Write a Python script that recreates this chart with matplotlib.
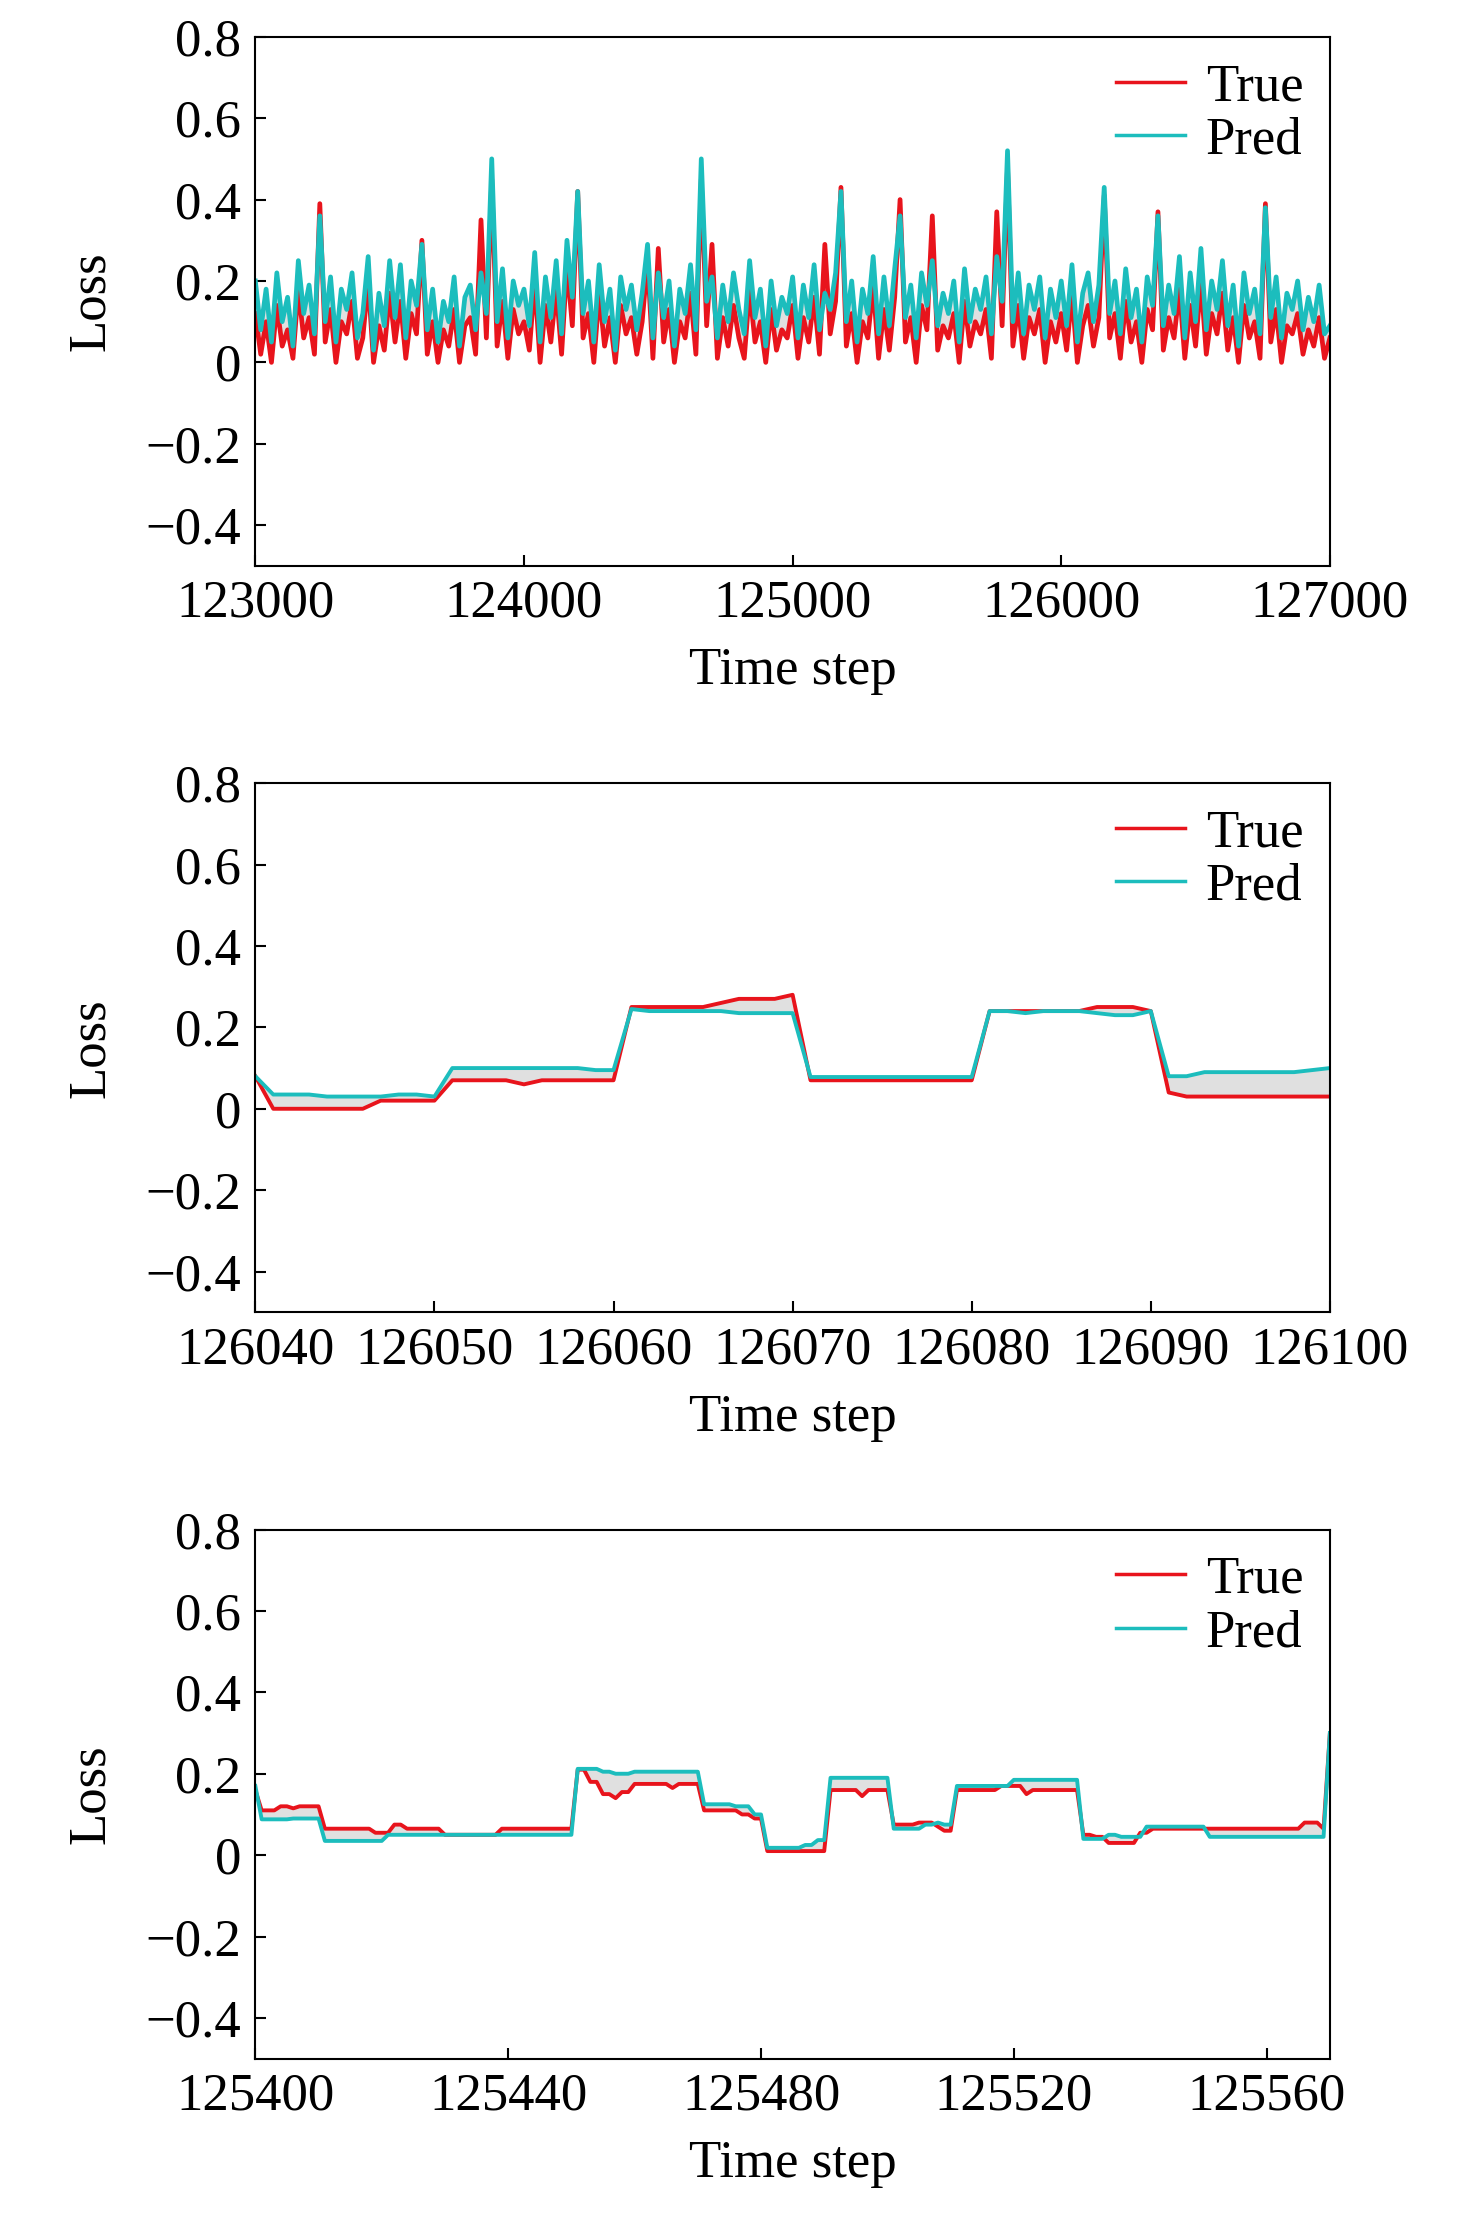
import numpy as np
import matplotlib
matplotlib.use("Agg")
import matplotlib.pyplot as plt

plt.rcParams['font.family'] = ['Liberation Serif', 'DejaVu Serif']
plt.rcParams['axes.unicode_minus'] = True

RED = '#e8141c'
TEAL = '#1cbdbd'

# ---- panel 1: 123000..127000, every 20 steps
t1 = np.arange(123000, 127001, 20)
pred1 = [
    0.20, 0.08, 0.18, 0.05, 0.22, 0.10, 0.16, 0.04, 0.25, 0.12, 0.19, 0.07, 0.36, 0.10, 0.21, 0.05, 0.18, 0.13, 0.22, 0.06,
    0.12, 0.26, 0.03, 0.17, 0.09, 0.25, 0.11, 0.24, 0.06, 0.20, 0.14, 0.29, 0.08, 0.18, 0.05, 0.15, 0.10, 0.21, 0.04, 0.16,
    0.19, 0.08, 0.22, 0.12, 0.50, 0.10, 0.23, 0.06, 0.20, 0.14, 0.18, 0.09, 0.27, 0.05, 0.21, 0.11, 0.25, 0.07, 0.30, 0.16,
    0.42, 0.12, 0.20, 0.05, 0.24, 0.10, 0.18, 0.03, 0.21, 0.13, 0.19, 0.08, 0.17, 0.29, 0.06, 0.22, 0.11, 0.20, 0.04, 0.18,
    0.12, 0.24, 0.08, 0.50, 0.15, 0.21, 0.06, 0.19, 0.10, 0.22, 0.13, 0.07, 0.25, 0.11, 0.18, 0.04, 0.20, 0.09, 0.16, 0.12,
    0.21, 0.06, 0.19, 0.11, 0.24, 0.08, 0.17, 0.13, 0.22, 0.42, 0.10, 0.20, 0.05, 0.18, 0.12, 0.26, 0.07, 0.21, 0.09, 0.23,
    0.36, 0.11, 0.19, 0.06, 0.22, 0.14, 0.25, 0.09, 0.17, 0.12, 0.20, 0.05, 0.23, 0.10, 0.18, 0.13, 0.21, 0.07, 0.26, 0.15,
    0.52, 0.10, 0.22, 0.07, 0.19, 0.13, 0.21, 0.06, 0.18, 0.11, 0.20, 0.09, 0.24, 0.05, 0.17, 0.22, 0.10, 0.19, 0.43, 0.12,
    0.20, 0.07, 0.23, 0.11, 0.18, 0.05, 0.21, 0.14, 0.36, 0.09, 0.19, 0.12, 0.26, 0.06, 0.22, 0.10, 0.28, 0.08, 0.20, 0.13,
    0.25, 0.09, 0.19, 0.04, 0.22, 0.12, 0.18, 0.07, 0.38, 0.11, 0.21, 0.06, 0.17, 0.13, 0.20, 0.08, 0.16, 0.10, 0.19, 0.07, 0.09,
]
true1 = [
    0.12, 0.02, 0.10, 0.00, 0.14, 0.04, 0.08, 0.01, 0.18, 0.06, 0.11, 0.02, 0.39, 0.05, 0.13, 0.00, 0.10, 0.07, 0.15, 0.01,
    0.06, 0.20, 0.00, 0.09, 0.03, 0.17, 0.05, 0.15, 0.01, 0.12, 0.07, 0.30, 0.02, 0.10, 0.00, 0.08, 0.04, 0.13, 0.00, 0.09,
    0.11, 0.02, 0.35, 0.06, 0.45, 0.04, 0.15, 0.01, 0.13, 0.07, 0.10, 0.03, 0.20, 0.00, 0.14, 0.05, 0.18, 0.02, 0.24, 0.09,
    0.42, 0.06, 0.12, 0.00, 0.17, 0.04, 0.11, 0.00, 0.14, 0.07, 0.11, 0.02, 0.10, 0.25, 0.01, 0.28, 0.05, 0.13, 0.00, 0.10,
    0.06, 0.17, 0.02, 0.45, 0.09, 0.29, 0.01, 0.11, 0.04, 0.14, 0.06, 0.01, 0.18, 0.05, 0.10, 0.00, 0.13, 0.03, 0.08, 0.06,
    0.14, 0.01, 0.11, 0.05, 0.16, 0.02, 0.29, 0.07, 0.15, 0.43, 0.04, 0.12, 0.00, 0.10, 0.06, 0.19, 0.01, 0.13, 0.03, 0.16,
    0.40, 0.05, 0.11, 0.00, 0.14, 0.08, 0.36, 0.03, 0.09, 0.06, 0.12, 0.00, 0.15, 0.04, 0.10, 0.07, 0.13, 0.01, 0.37, 0.09,
    0.48, 0.04, 0.14, 0.01, 0.11, 0.07, 0.13, 0.00, 0.10, 0.05, 0.12, 0.03, 0.17, 0.00, 0.09, 0.14, 0.04, 0.11, 0.41, 0.06,
    0.12, 0.01, 0.15, 0.05, 0.10, 0.00, 0.13, 0.08, 0.37, 0.03, 0.11, 0.06, 0.18, 0.01, 0.14, 0.04, 0.20, 0.02, 0.12, 0.07,
    0.17, 0.03, 0.11, 0.00, 0.14, 0.06, 0.10, 0.01, 0.39, 0.05, 0.13, 0.00, 0.09, 0.07, 0.12, 0.02, 0.08, 0.04, 0.11, 0.01, 0.06,
]

# ---- panel 2: 126040..126100, every step
t2 = np.arange(126040, 126101)
true2 = [0.08, 0.00, 0.00, 0.00, 0.00, 0.00, 0.00, 0.02, 0.02, 0.02, 0.02,
         0.07, 0.07, 0.07, 0.07, 0.06, 0.07, 0.07, 0.07, 0.07, 0.07,
         0.25, 0.25, 0.25, 0.25, 0.25, 0.26, 0.27, 0.27, 0.27, 0.28,
         0.07, 0.07, 0.07, 0.07, 0.07, 0.07, 0.07, 0.07, 0.07, 0.07,
         0.24, 0.24, 0.24, 0.24, 0.24, 0.24, 0.25, 0.25, 0.25, 0.24,
         0.04, 0.03, 0.03, 0.03, 0.03, 0.03, 0.03, 0.03, 0.03, 0.03]
pred2 = [0.08, 0.035, 0.035, 0.035, 0.03, 0.03, 0.03, 0.03, 0.035, 0.035, 0.03,
         0.10, 0.10, 0.10, 0.10, 0.10, 0.10, 0.10, 0.10, 0.095, 0.095,
         0.245, 0.24, 0.24, 0.24, 0.24, 0.24, 0.235, 0.235, 0.235, 0.235,
         0.078, 0.078, 0.078, 0.078, 0.078, 0.078, 0.078, 0.078, 0.078, 0.078,
         0.24, 0.24, 0.235, 0.24, 0.24, 0.24, 0.235, 0.23, 0.23, 0.24,
         0.08, 0.08, 0.09, 0.09, 0.09, 0.09, 0.09, 0.09, 0.095, 0.10]

# ---- panel 3: 125400..125570, piecewise-constant runs (offset of run start, value)
t3 = np.arange(125400, 125571)
true3_start = [0, 1, 4, 6, 7, 11, 19, 22, 24, 30, 39, 51, 53, 55, 57, 58, 60, 66, 67, 71, 77, 79, 81,
               91, 96, 97, 101, 105, 108, 109, 111, 118, 122, 123, 131, 133, 135, 140, 142, 166, 169, 170]
true3_val = [0.16, 0.11, 0.12, 0.115, 0.12, 0.065, 0.055, 0.075, 0.065, 0.05, 0.065, 0.21, 0.18, 0.15,
             0.14, 0.155, 0.175, 0.165, 0.175, 0.11, 0.10, 0.09, 0.01, 0.16, 0.145, 0.16, 0.075, 0.08,
             0.07, 0.06, 0.16, 0.17, 0.15, 0.16, 0.05, 0.045, 0.03, 0.055, 0.065, 0.08, 0.065, 0.30]
pred3_start = [0, 1, 6, 11, 21, 51, 55, 57, 60, 71, 76, 79, 81, 87, 89, 91, 101, 106, 108, 109, 111,
               120, 131, 135, 137, 141, 151, 170]
pred3_val = [0.17, 0.088, 0.09, 0.035, 0.05, 0.212, 0.205, 0.20, 0.205, 0.125, 0.12, 0.10, 0.018,
             0.025, 0.037, 0.19, 0.065, 0.075, 0.08, 0.075, 0.17, 0.185, 0.04, 0.05, 0.045, 0.07,
             0.045, 0.30]


def expand(starts, vals, n):
    counts = np.diff(list(starts) + [n])
    return np.repeat(vals, counts)


true3 = expand(true3_start, true3_val, len(t3))
pred3 = expand(pred3_start, pred3_val, len(t3))

fig = plt.figure(figsize=(14.76, 22.28), dpi=100)
bottoms = [0.746, 0.411, 0.076]
panels = [
    (t1, np.array(true1), np.array(pred1), (123000, 127000), [123000, 124000, 125000, 126000, 127000], 3.4),
    (t2, np.array(true2), np.array(pred2), (126040, 126100), list(range(126040, 126101, 10)), 2.8),
    (t3, true3, pred3, (125400, 125570), list(range(125400, 125561, 40)), 2.8),
]
fs = 38
for b, (t, tr, pr, xl, xt, lw) in zip(bottoms, panels):
    ax = fig.add_axes([0.173, b, 0.728, 0.2375])
    ax.fill_between(t, tr, pr, color='#cccccc', alpha=0.6, lw=0)
    ax.plot(t, tr, color=RED, lw=lw, label='True')
    ax.plot(t, pr, color=TEAL, lw=lw, label='Pred')
    ax.set_xlim(*xl)
    ax.set_ylim(-0.5, 0.8)
    ax.set_xticks(xt)
    ax.set_yticks([-0.4, -0.2, 0, 0.2, 0.4, 0.6, 0.8])
    ax.set_yticklabels(['\u22120.4', '\u22120.2', '0', '0.2', '0.4', '0.6', '0.8'])
    ax.tick_params(direction='in', labelsize=fs, length=8, width=1.5, pad=10)
    for s in ax.spines.values():
        s.set_linewidth(1.5)
    ax.set_xlabel('Time step', fontsize=fs, labelpad=14)
    ax.set_ylabel('Loss', fontsize=fs, labelpad=22)
    leg = ax.legend(loc='upper right', frameon=False, fontsize=fs, handlelength=1.3,
                    handletextpad=0.4, labelspacing=0.1, borderaxespad=0.1)
    for h in leg.get_lines():
        h.set_linewidth(2.5)

fig.savefig('out.png', dpi=100)
